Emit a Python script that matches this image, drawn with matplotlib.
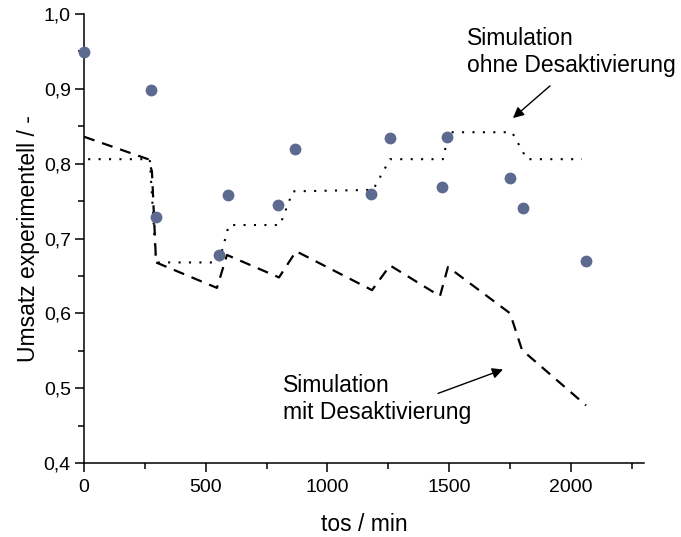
import matplotlib
matplotlib.use("Agg")
import matplotlib.pyplot as plt
from matplotlib.ticker import MultipleLocator, FuncFormatter

plt.rcParams['font.family'] = ['Liberation Sans', 'DejaVu Sans']

# Experimental conversion over time on stream
tos_exp = [0, 275, 296, 554, 591, 797, 866, 1179, 1257, 1470, 1491, 1749, 1803, 2062]
umsatz_exp = [0.949, 0.898, 0.729, 0.678, 0.758, 0.745, 0.820, 0.759, 0.834,
              0.769, 0.836, 0.781, 0.741, 0.670]

# Simulation without deactivation
tos_ohne = [0, 270, 296, 554, 595, 805, 858, 1187, 1257, 1474, 1499, 1758, 1819, 2045]
umsatz_ohne = [0.806, 0.806, 0.668, 0.668, 0.718, 0.718, 0.763, 0.765, 0.806,
               0.806, 0.842, 0.842, 0.806, 0.806]

# Simulation with deactivation
tos_mit = [0, 263, 279, 296, 546, 587, 801, 871, 1183, 1257, 1462, 1495, 1750, 1799, 2062]
umsatz_mit = [0.836, 0.806, 0.790, 0.668, 0.634, 0.678, 0.648, 0.683, 0.631, 0.664,
              0.623, 0.662, 0.600, 0.551, 0.477]

x_ticks = [0, 500, 1000, 1500, 2000]
y_ticks = [0.4, 0.5, 0.6, 0.7, 0.8, 0.9, 1.0]

fig = plt.figure(figsize=(6.81, 5.37), dpi=100)
ax = fig.add_axes([84 / 681, 1 - 463 / 537, (644 - 84) / 681, (463 - 14) / 537])

ax.plot(tos_mit, umsatz_mit, color='black', lw=1.6, linestyle=(0, (5, 3.6)), zorder=2)
ax.plot(tos_ohne, umsatz_ohne, color='black', lw=1.5, linestyle=(3, (1, 4)), zorder=2)
ax.plot(tos_exp, umsatz_exp, linestyle='none', marker='o', ms=8.5,
        color='#5b6a8e', markeredgewidth=0, zorder=3, clip_on=False)

ax.set_xlim(0, 2300)
ax.set_ylim(0.4, 1.0)
ax.set_xticks(x_ticks)
ax.set_yticks(y_ticks)
ax.xaxis.set_minor_locator(MultipleLocator(250))
ax.yaxis.set_minor_locator(MultipleLocator(0.05))
ax.yaxis.set_major_formatter(FuncFormatter(lambda v, p: f"{v:.1f}".replace('.', ',')))

for side in ('top', 'right'):
    ax.spines[side].set_visible(False)
for side in ('left', 'bottom'):
    ax.spines[side].set_linewidth(1.1)

ax.tick_params(which='major', direction='out', length=6.5, width=1.1, labelsize=14)
ax.tick_params(axis='y', which='major', pad=3)
ax.tick_params(axis='x', which='major', pad=5)
ax.tick_params(which='minor', direction='out', length=4, width=1.1)

ax.set_xlabel('tos / min', fontsize=16.5, labelpad=12)
ax.set_ylabel('Umsatz experimentell / -', fontsize=16.5, labelpad=3)

ax.text(1573, 0.983, 'Simulation\nohne Desaktivierung', fontsize=16.5,
        ha='left', va='top', linespacing=1.25)
ax.annotate('', xy=(1762, 0.861), xytext=(1914, 0.904),
            arrowprops=dict(arrowstyle='-|>', color='black', lw=1.0,
                            mutation_scale=16, shrinkA=0, shrinkB=0))

ax.text(817, 0.519, 'Simulation\nmit Desaktivierung', fontsize=16.5,
        ha='left', va='top', linespacing=1.25)
ax.annotate('', xy=(1721, 0.525), xytext=(1454, 0.493),
            arrowprops=dict(arrowstyle='-|>', color='black', lw=1.0,
                            mutation_scale=16, shrinkA=0, shrinkB=0))

fig.savefig('out.png', dpi=100)
